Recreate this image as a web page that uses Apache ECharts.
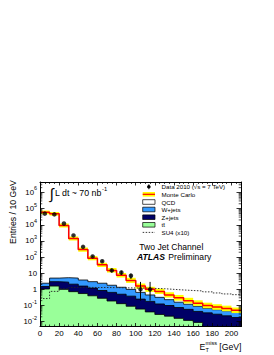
<!DOCTYPE html>
<html><head><meta charset="utf-8">
<script src="https://cdn.jsdelivr.net/npm/echarts@6/dist/echarts.min.js"></script>
<style>html,body{margin:0;padding:0;background:#fff}#c{width:274px;height:355px}</style>
</head><body><div id="c"></div>
<script>
// ---- data (Entries / 10 GeV), bins of E_T^miss from 0 to 210 GeV ----
const binEdges = [0,10,20,30,40,50,60,70,80,90,100,110,120,130,140,150,160,170,180,190,200,210];
const ttbar = [1.05,1.6,1.0,0.72,0.55,0.4,0.28,0.19,0.13,0.09,0.06,0.04,0.028,0.022,0.016,0.012,0.009,0,0,0,0];
const zjets = [0.45,1.4,1.8,1.38,1.05,0.8,0.57,0.46,0.37,0.29,0.19,0.14,0.097,0.078,0.059,0.046,0.034,0.035,0.029,0.023,0.018];
const wjets = [0.9,2.0,2.5,2.9,2.2,1.8,1.55,1.15,0.85,0.62,0.4,0.27,0.195,0.13,0.085,0.062,0.047,0.033,0.026,0.024,0.02];
const qcd   = [59000,48000,9000,1400,286,82,30.6,13.2,6.2,2.6,0.95,0.55,0.43,0.22,0.14,0.08,0.05,0.032,0.025,0.018,0.012];
const mcBandLo = [45000,37000,6800,1050,215,63,24,11,5.4,2.5,1.1,0.7,0.52,0.31,0.2,0.135,0.095,0.068,0.054,0.044,0.034];
const mcBandHi = [76000,62000,12000,1900,390,115,45,21,10.5,5.2,2.3,1.45,1.1,0.66,0.45,0.3,0.21,0.15,0.12,0.098,0.075];
const su4x10 = [0.27,0.75,1.1,1.3,1.35,1.3,1.3,1.28,1.25,1.22,1.2,1.15,1.1,1.0,0.92,0.85,0.8,0.7,0.6,0.52,0.47];
const dataVals  = [49000,44000,12000,2200,430,110,55,15,11,7,1,1,0,0,0,0,0,0,0,0,0];
const dataErrLo = [221,210,110,47,21,10.5,7.4,3.9,3.3,2.6,0.8,0.8,0,0,0,0,0,0,0,0,0];
const dataErrHi = [221,210,110,47,21,10.5,7.4,3.9,3.3,2.6,1.9,1.9,0,0,0,0,0,0,0,0,0];
const xTickLabels = [0,20,40,60,80,100,120,140,160,180,200];
const yTickExponents = [-2,-1,0,1,2,3,4,5,6];

// ---- helpers ----
const FONT = 'Liberation Sans, Arial, Helvetica, sans-serif';
const LOG_MIN = -2.3, LOG_MAX = 6.65;
const lg = v => (v > 0 ? Math.log10(v) : -8);
const nb = ttbar.length;
function cum(...arrs){ return arrs[0].map((_,i)=>arrs.reduce((s,a)=>s+a[i],0)); }
const c1 = cum(ttbar), c2 = cum(ttbar,zjets), c3 = cum(ttbar,zjets,wjets), c4 = cum(ttbar,zjets,wjets,qcd);
function stepData(vals){
  const out = vals.map((v,i)=>[binEdges[i], lg(v)]);
  out.push([binEdges[nb], lg(vals[nb-1])]);
  return out;
}
const centers = binEdges.slice(0,nb).map((e,i)=>(e+binEdges[i+1])/2);

function areaSeries(name, vals, fill, stroke, z){
  return {name, type:'line', step:'end', data:stepData(vals), symbol:'none', z,
    lineStyle:{color:stroke, width:0.8}, areaStyle:{color:fill, opacity:1, origin:'start'},
    clip:true, silent:true};
}

const bandData = mcBandLo.map((lo,i)=>[binEdges[i], binEdges[i+1], lg(lo), lg(mcBandHi[i])]);
const dataPts = [], errData = [];
dataVals.forEach((v,i)=>{
  if (v > 0){
    dataPts.push([centers[i], lg(v)]);
    errData.push([centers[i], lg(v - dataErrLo[i]), lg(v + dataErrHi[i])]);
  }
});
const minorTickVals = [];
for (let n=-3;n<=6;n++) for (let k=2;k<=9;k++){ const t=Math.log10(k)+n; if (t>LOG_MIN && t<LOG_MAX) minorTickVals.push([0,t]); }

function yLabel(v){
  if (Math.abs(v-Math.round(v))>1e-6) return '';
  const n = Math.round(v);
  if (yTickExponents.indexOf(n) < 0) return '';
  if (n===0) return '{b|1}';
  if (n===1) return '{b|10}';
  return '{b|10}{s|' + n + '}';
}

const axisCommonX = {type:'value', min:0, max:210, interval:20, z:20,
  axisLine:{show:true, onZero:false, lineStyle:{color:'#000', width:1}},
  axisTick:{show:true, inside:true, length:3.5, lineStyle:{color:'#000', width:0.8}},
  minorTick:{show:true, splitNumber:4, length:2, lineStyle:{color:'#000', width:0.7}},
  splitLine:{show:false}};
const axisCommonY = {type:'value', min:LOG_MIN, max:LOG_MAX, splitNumber:9, z:20,
  axisLine:{show:true, onZero:false, lineStyle:{color:'#000', width:1}},
  axisTick:{show:true, inside:true, length:4.5, lineStyle:{color:'#000', width:0.8}},
  splitLine:{show:false}};

const chart = echarts.init(document.getElementById('c'), null, {renderer:'svg'});
const T = (text, x, y, size, extra) => Object.assign({type:'text', x, y, silent:true,
  style:Object.assign({text, fontSize:size, fontFamily:FONT, fill:'#000', align:'left', verticalAlign:'middle'}, extra||{})});

const LX = 142.7, LW = 12.3, LH = 4.6, LTX = 161.5, LFS = 6.2;
const legRows = [186.7,194.3,202,209.5,217.2,224.8,232.4];
const legBox = (y, fill) => ({type:'rect', silent:true, shape:{x:LX, y:y-LH/2, width:LW, height:LH},
  style:{fill, stroke:'#000', lineWidth:0.7}});

chart.setOption({
  animation:false,
  backgroundColor:'#fff',
  grid:{left:40, right:33, top:182, bottom:28.5, containLabel:false, outerBoundsMode:'none'},
  xAxis:[
    Object.assign({}, axisCommonX, {position:'bottom',
      axisLabel:{show:true, margin:3, fontSize:8, fontFamily:FONT, color:'#000',
        formatter:v => (xTickLabels.indexOf(Math.round(v))>=0 && Math.abs(v-Math.round(v))<1e-6) ? String(Math.round(v)) : ''}}),
    Object.assign({}, axisCommonX, {position:'top', axisLabel:{show:false}})
  ],
  yAxis:[
    Object.assign({}, axisCommonY, {position:'left',
      axisLabel:{show:true, margin:3, formatter:yLabel, color:'#000',
        rich:{b:{fontSize:7.8, fontFamily:FONT, color:'#000', lineHeight:13, verticalAlign:'middle'},
              s:{fontSize:5.4, fontFamily:FONT, color:'#000', verticalAlign:'top'}}}}),
    Object.assign({}, axisCommonY, {position:'right', axisLabel:{show:false}})
  ],
  series:[
    areaSeries('QCD', c4, '#ffffff', '#555555', 1),
    areaSeries('W+jets', c3, '#3399ff', '#000000', 2),
    areaSeries('Z+jets', c2, '#000066', '#000000', 3),
    areaSeries('tt̄', c1, '#99ff99', '#000000', 4),
    {name:'MC uncertainty', type:'custom', z:5, silent:true, data:bandData, encode:{x:[0,1], y:[2,3]},
      renderItem:(params, api)=>{
        const p0 = api.coord([api.value(0), api.value(3)]);
        const p1 = api.coord([api.value(1), api.value(2)]);
        return {type:'rect', shape:{x:p0[0], y:p0[1], width:p1[0]-p0[0], height:p1[1]-p0[1]}, style:{fill:'#ffff00'}};
      }},
    {name:'SU4 (x10)', type:'line', step:'end', z:6, data:stepData(su4x10), symbol:'none', silent:true,
      lineStyle:{color:'#222', width:0.9, type:[1.5,1.5]}},
    {name:'Monte Carlo', type:'line', step:'end', z:7, data:stepData(c4), symbol:'none', silent:true,
      lineStyle:{color:'#ff0000', width:1.5}},
    {name:'Data error', type:'custom', z:8, silent:true, data:errData, encode:{x:0, y:[1,2]},
      renderItem:(params, api)=>{
        const a = api.coord([api.value(0), api.value(1)]);
        const b = api.coord([api.value(0), api.value(2)]);
        return {type:'line', shape:{x1:a[0], y1:a[1], x2:b[0], y2:b[1]}, style:{stroke:'#000', lineWidth:1}};
      }},
    {name:'Data 2010', type:'scatter', z:9, data:dataPts, symbol:'circle', symbolSize:4.5, silent:true,
      itemStyle:{color:'#000'}},
    {name:'log minor ticks', type:'custom', z:30, silent:true, data:minorTickVals, encode:{x:0, y:1},
      renderItem:(params, api)=>{
        const l = api.coord([0, api.value(1)]);
        const r = api.coord([210, api.value(1)]);
        return {type:'group', children:[
          {type:'line', shape:{x1:l[0], y1:l[1], x2:l[0]+2.3, y2:l[1]}, style:{stroke:'#000', lineWidth:0.7}},
          {type:'line', shape:{x1:r[0], y1:r[1], x2:r[0]-2.3, y2:r[1]}, style:{stroke:'#000', lineWidth:0.7}}
        ]};
      }}
  ],
  graphic:[
    // y-axis title
    {type:'text', x:13, y:212, rotation:Math.PI/2, silent:true,
      style:{text:'Entries / 10 GeV', fontSize:8.7, fontFamily:FONT, fill:'#000', align:'center', verticalAlign:'middle'}},
    // x-axis title
    T('E', 199.5, 347, 8.7),
    T('miss', 205.6, 343.2, 5.6),
    T('T', 205.6, 350.3, 5.6),
    T('[GeV]', 219.3, 347, 8.7),
    // luminosity
    T('∫', 49.5, 193.5, 15),
    T('L dt ~ 70 nb', 55, 193.3, 8.8),
    T('-1', 102, 188.5, 5.8),
    // channel / ATLAS
    T('Two Jet Channel', 139.3, 246.7, 8.6),
    {type:'text', x:137, y:257.3, silent:true,
      style:{text:'{a|ATLAS} {b|Preliminary}', fontFamily:FONT, fill:'#000', verticalAlign:'middle', align:'left',
        rich:{a:{fontSize:8.6, fontWeight:'bold', fontStyle:'italic', fontFamily:FONT, fill:'#000'},
              b:{fontSize:8.6, fontFamily:FONT, fill:'#000'}}}},
    // legend
    {type:'circle', silent:true, shape:{cx:LX+LW/2, cy:legRows[0], r:1.8}, style:{fill:'#000'}},
    {type:'line', silent:true, shape:{x1:LX+LW/2, y1:legRows[0]-2.6, x2:LX+LW/2, y2:legRows[0]+2.6}, style:{stroke:'#000', lineWidth:0.7}},
    T('Data 2010 (√s = 7 TeV)', LTX, legRows[0], LFS),
    {type:'rect', silent:true, shape:{x:LX, y:legRows[1]-LH/2, width:LW, height:LH}, style:{fill:'#ffff00'}},
    {type:'line', silent:true, shape:{x1:LX, y1:legRows[1], x2:LX+LW, y2:legRows[1]}, style:{stroke:'#ff0000', lineWidth:1.2}},
    T('Monte Carlo', LTX, legRows[1], LFS),
    legBox(legRows[2], '#ffffff'), T('QCD', LTX, legRows[2], LFS),
    legBox(legRows[3], '#3399ff'), T('W+jets', LTX, legRows[3], LFS),
    legBox(legRows[4], '#000066'), T('Z+jets', LTX, legRows[4], LFS),
    legBox(legRows[5], '#99ff99'), T('tt̄', LTX, legRows[5], LFS),
    {type:'line', silent:true, shape:{x1:LX, y1:legRows[6], x2:LX+LW, y2:legRows[6]}, style:{stroke:'#222', lineWidth:0.9, lineDash:[1.5,1.5]}},
    T('SU4 (x10)', LTX, legRows[6], LFS)
  ]
});
</script></body></html>
